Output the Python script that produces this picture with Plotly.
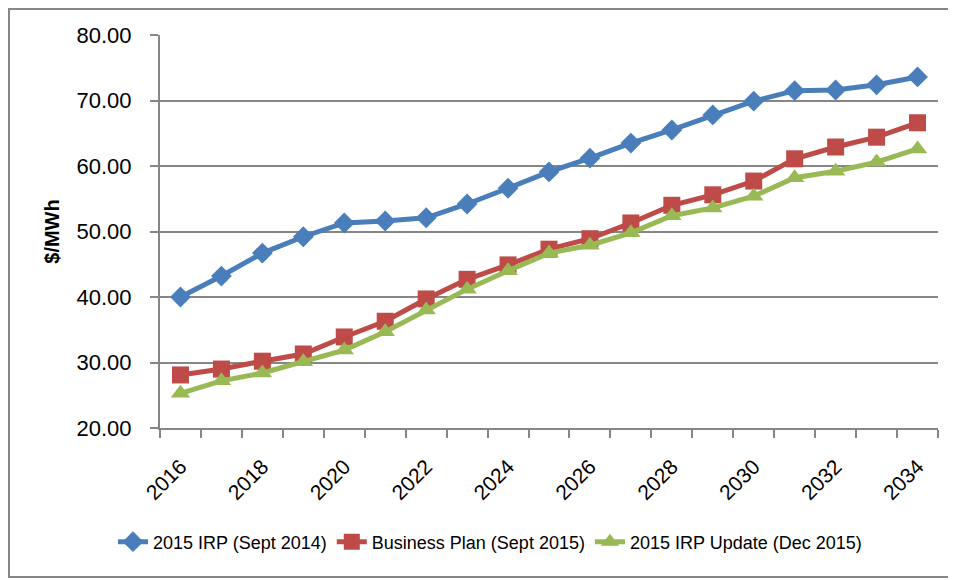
import plotly.graph_objects as go

years = list(range(2016, 2035))
irp_2014 = [40.0, 43.2, 46.7, 49.2, 51.3, 51.6, 52.1, 54.2, 56.6, 59.1,
            61.2, 63.5, 65.5, 67.8, 69.9, 71.5, 71.6, 72.4, 73.6]
business_plan = [28.1, 29.0, 30.2, 31.3, 33.9, 36.3, 39.7, 42.7, 44.9, 47.3,
                 48.9, 51.3, 54.0, 55.6, 57.7, 61.1, 62.9, 64.4, 66.6]
irp_update = [25.3, 27.2, 28.4, 30.1, 31.9, 34.7, 38.0, 41.2, 44.0, 46.7,
              47.9, 49.8, 52.4, 53.6, 55.4, 58.2, 59.2, 60.6, 62.6]
tick_years = list(range(2016, 2035, 2))

FONT = "Liberation Sans, Arial"
GRAY = "#868686"

series = [
    ("2015 IRP (Sept 2014)", irp_2014, "#4A7EBB", "diamond", 16),
    ("Business Plan (Sept 2015)", business_plan, "#BE4B48", "square", 17),
    ("2015 IRP Update (Dec 2015)", irp_update, "#98B954", "triangle-up", 17),
]

fig = go.Figure()
for name, vals, color, symbol, size in series:
    fig.add_trace(go.Scatter(
        x=years, y=vals, mode="lines+markers", name=name,
        line=dict(color=color, width=5),
        marker=dict(symbol=symbol, size=size, color=color),
    ))

# page has an 8px body margin, so the figure is sized/offset to compensate
W, H = 944, 570
L, R, T, B = 152, 14, 27, 150
pw, ph = W - L - R, H - T - B

fig.update_layout(
    width=W, height=H,
    margin=dict(l=L, r=R, t=T, b=B),
    paper_bgcolor="white", plot_bgcolor="white",
    font=dict(family=FONT, color="black"),
    showlegend=True,
    legend=dict(orientation="h", x=(490 - 8 - L) / pw, y=(H - B - (542 - 8)) / ph,
                xanchor="center", yanchor="middle",
                font=dict(size=18), tracegroupgap=0),
    shapes=[dict(type="rect", xref="paper", yref="paper",
                 x0=(1 - L) / pw, x1=(W - 1 - L) / pw,
                 y0=(H - B - (H - 1)) / ph, y1=(H - B - 1) / ph,
                 line=dict(color=GRAY, width=2))],
)
fig.update_xaxes(
    range=[2015.5, 2034.5],
    tickvals=tick_years, ticktext=[str(y) for y in tick_years],
    tickangle=-45, ticks="", tickfont=dict(size=21), ticklabelstandoff=16,
    showgrid=False, showline=True, linecolor=GRAY, linewidth=2,
    minor=dict(tick0=2015.5, dtick=1, ticks="outside", ticklen=8,
               tickcolor=GRAY, tickwidth=2, showgrid=False),
)
fig.update_yaxes(
    range=[20, 80], dtick=10, tickformat=".2f",
    tickfont=dict(size=22), ticklabelstandoff=14,
    ticks="outside", ticklen=8, tickcolor=GRAY, tickwidth=2,
    showgrid=True, gridcolor=GRAY, gridwidth=2,
    showline=True, linecolor=GRAY, linewidth=2,
    zeroline=False,
    title=dict(text="<b>$/MWh</b>", font=dict(size=20), standoff=12),
)

fig.write_html("out.html")
